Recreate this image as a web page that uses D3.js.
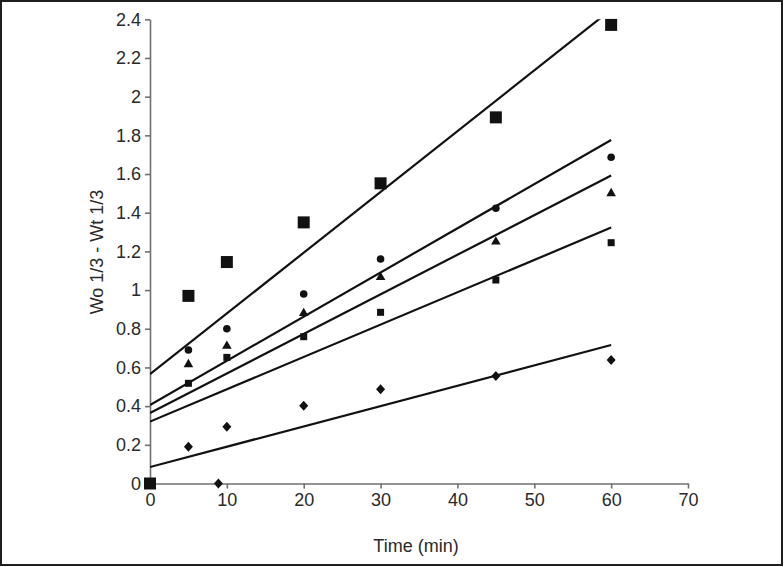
<!DOCTYPE html>
<html><head><meta charset="utf-8">
<script src="https://cdn.jsdelivr.net/npm/d3@7"></script>
<style>body{margin:0;background:#fff}svg{display:block}</style>
</head><body>
<svg id="c" width="784" height="567"></svg>
<script>
const xTicks = [0,10,20,30,40,50,60,70];
const yTicks = [0,0.2,0.4,0.6,0.8,1,1.2,1.4,1.6,1.8,2,2.2,2.4];
const yTickLabels = ["0","0.2","0.4","0.6","0.8","1","1.2","1.4","1.6","1.8","2","2.2","2.4"];

const bigSquareX = [0,5,10,20,30,45,60];
const bigSquareY = [0,0.97,1.145,1.35,1.552,1.893,2.371];
const bigSquareFit = [0.565,2.45];

const circleX = [5,10,20,30,45,60];
const circleY = [0.69,0.80,0.98,1.161,1.423,1.687];
const circleFit = [0.406,1.776];

const triangleX = [5,10,20,30,45,60];
const triangleY = [0.616,0.711,0.880,1.066,1.25,1.50];
const triangleFit = [0.364,1.592];

const smallSquareX = [5,10,20,30,45,60];
const smallSquareY = [0.518,0.652,0.759,0.885,1.052,1.245];
const smallSquareFit = [0.32,1.323];

const diamondX = [5,8.9,10,20,30,45,60];
const diamondY = [0.19,0,0.294,0.402,0.487,0.556,0.639];
const diamondFit = [0.085,0.716];

const fitX = [0,60];

const svg = d3.select("#c");
svg.append("rect").attr("x",1).attr("y",1).attr("width",781).attr("height",564)
  .attr("fill","#fff").attr("stroke","#1e1e1e").attr("stroke-width",2);

const x = d3.scaleLinear().domain([0,70]).range([150,688]);
const y = d3.scaleLinear().domain([0,2.4]).range([483.5,19.3]);

svg.append("defs").append("clipPath").attr("id","clip")
  .append("rect").attr("x",150).attr("y",19.3).attr("width",538).attr("height",464.2);

const axisColor = "#707070";
const textColor = "#2a2a2a";
const font = "'Liberation Sans', Arial, sans-serif";

const gx = svg.append("g").attr("transform","translate(0,483.5)")
  .call(d3.axisBottom(x).tickValues(xTicks).tickSize(5).tickSizeOuter(0).tickPadding(5));
const gy = svg.append("g").attr("transform","translate(150,0)")
  .call(d3.axisLeft(y).tickValues(yTicks).tickSize(5).tickSizeOuter(0).tickPadding(4)
    .tickFormat((d,i)=>yTickLabels[i]));
[gx,gy].forEach(g=>{
  g.selectAll("path,line").attr("stroke",axisColor).attr("stroke-width",1.6);
  g.selectAll("text").attr("fill",textColor).style("font-family",font).style("font-size","18px");
});

svg.append("text").attr("x",416).attr("y",552).attr("text-anchor","middle")
  .style("font-family",font).style("font-size","18px").attr("fill",textColor).text("Time (min)");
svg.append("text").attr("transform","translate(103,252) rotate(-90)").attr("text-anchor","middle")
  .style("font-family",font).style("font-size","18px").attr("fill",textColor).text("Wo 1/3 - Wt 1/3");

const lines = svg.append("g").attr("clip-path","url(#clip)");
const line = d3.line().x(d=>x(d[0])).y(d=>y(d[1]));
[bigSquareFit,circleFit,triangleFit,smallSquareFit,diamondFit].forEach(f=>{
  lines.append("path").attr("d",line(fitX.map((xv,i)=>[xv,f[i]])))
    .attr("fill","none").attr("stroke","#111").attr("stroke-width",2.2);
});

const mk = svg.append("g").attr("fill","#111");
function pts(xs,ys){return xs.map((v,i)=>[v,ys[i]]);}
pts(diamondX,diamondY).forEach(p=>{
  const cx=x(p[0]), cy=y(p[1]);
  mk.append("path").attr("d",`M${cx},${cy-5}L${cx+4.5},${cy}L${cx},${cy+5}L${cx-4.5},${cy}Z`);
});
pts(smallSquareX,smallSquareY).forEach(p=>{
  mk.append("rect").attr("x",x(p[0])-3.5).attr("y",y(p[1])-3.5).attr("width",7).attr("height",7);
});
pts(triangleX,triangleY).forEach(p=>{
  mk.append("path").attr("d",d3.symbol(d3.symbolTriangle,40)()).attr("transform",`translate(${x(p[0])},${y(p[1])})`);
});
pts(circleX,circleY).forEach(p=>{
  mk.append("circle").attr("cx",x(p[0])).attr("cy",y(p[1])).attr("r",3.8);
});
pts(bigSquareX,bigSquareY).forEach(p=>{
  mk.append("rect").attr("x",x(p[0])-6).attr("y",y(p[1])-6).attr("width",12).attr("height",12);
});
</script>
</body></html>
